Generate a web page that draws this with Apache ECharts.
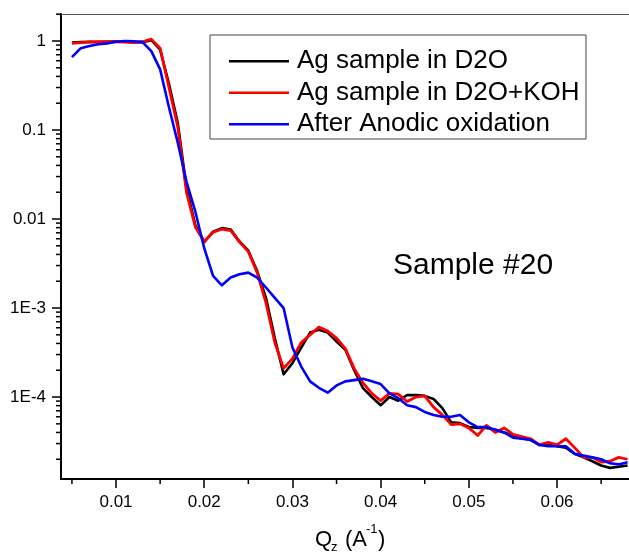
<!DOCTYPE html>
<html>
<head>
<meta charset="utf-8">
<script src="https://cdn.jsdelivr.net/npm/echarts@6/dist/echarts.min.js"></script>
<style>
html,body{margin:0;padding:0;background:#fff;}
#chart{width:629px;height:552px;}
</style>
</head>
<body>
<div id="chart"></div>
<script>
const qValues = [0.005,0.006,0.007,0.008,0.009,0.010,0.011,0.012,0.013,0.014,
  0.015,0.016,0.017,0.018,0.019,0.020,0.021,0.022,0.023,0.024,
  0.025,0.026,0.027,0.028,0.029,0.030,0.031,0.032,0.033,0.034,
  0.035,0.036,0.037,0.038,0.039,0.040,0.041,0.042,0.043,0.044,
  0.045,0.046,0.047,0.048,0.049,0.050,0.051,0.052,0.053,0.054,
  0.055,0.056,0.057,0.058,0.059,0.060,0.061,0.062,0.063,0.064,
  0.065,0.066,0.067,0.068];

const agD2O = [0.96,0.97,0.98,0.97,0.98,0.99,0.98,0.97,0.97,1.02,
  0.80,0.33,0.12,0.022,0.0085,0.0055,0.0072,0.0079,0.0076,0.0056,
  0.0044,0.0026,0.0013,4.6e-4,1.8e-4,2.4e-4,3.6e-4,5.3e-4,5.7e-4,5.3e-4,
  4.2e-4,3.4e-4,2.0e-4,1.26e-4,1.0e-4,8.1e-5,1.0e-4,9.1e-5,1.05e-4,1.05e-4,
  1.03e-4,9.5e-5,7.5e-5,5.2e-5,5.1e-5,4.6e-5,4.5e-5,4.5e-5,4.3e-5,4.0e-5,
  3.7e-5,3.5e-5,3.3e-5,2.9e-5,3.0e-5,2.8e-5,2.7e-5,2.3e-5,2.1e-5,1.9e-5,
  1.7e-5,1.6e-5,1.65e-5,1.7e-5];

const agD2OKOH = [0.94,0.96,0.97,0.98,0.98,0.98,0.97,0.96,0.98,1.05,
  0.83,0.30,0.108,0.0196,0.0081,0.0056,0.0071,0.0077,0.0074,0.0055,
  0.0043,0.0025,0.00114,4.1e-4,2.1e-4,2.7e-4,4.1e-4,5.0e-4,6.1e-4,5.5e-4,
  4.6e-4,3.5e-4,2.1e-4,1.44e-4,1.1e-4,9.1e-5,1.1e-4,1.08e-4,8.9e-5,1.0e-4,
  1.03e-4,7.7e-5,6.3e-5,4.9e-5,5.0e-5,4.5e-5,3.7e-5,4.8e-5,4.0e-5,4.5e-5,
  3.8e-5,3.6e-5,3.4e-5,2.9e-5,3.1e-5,2.9e-5,3.4e-5,2.7e-5,2.1e-5,2.1e-5,
  1.86e-5,1.9e-5,2.1e-5,2.0e-5];

const anodic = [0.66,0.83,0.88,0.92,0.94,0.98,1.0,0.99,0.97,0.77,
  0.48,0.18,0.072,0.026,0.012,0.0047,0.0023,0.0018,0.0022,0.0024,
  0.0025,0.0022,0.0017,0.0013,0.0010,3.6e-4,2.2e-4,1.5e-4,1.27e-4,1.12e-4,
  1.35e-4,1.5e-4,1.55e-4,1.6e-4,1.5e-4,1.4e-4,1.1e-4,9.7e-5,8.1e-5,7.7e-5,
  6.8e-5,6.3e-5,6.0e-5,6.0e-5,6.3e-5,5.2e-5,4.6e-5,4.6e-5,4.3e-5,4.0e-5,
  3.5e-5,3.4e-5,3.3e-5,2.9e-5,2.8e-5,2.8e-5,2.8e-5,2.3e-5,2.2e-5,2.1e-5,
  2.0e-5,1.8e-5,1.75e-5,1.85e-5];

const seriesNames = ['Ag sample in D2O', 'Ag sample in D2O+KOH', 'After Anodic oxidation'];
const seriesColors = ['#000000', '#ff0000', '#0000ff'];
const xMinorTicks = [0.005,0.015,0.025,0.035,0.045,0.055,0.065];
const yMinorTicks = [2e-5,3e-5,4e-5,5e-5,6e-5,7e-5,8e-5,9e-5,
  2e-4,3e-4,4e-4,5e-4,6e-4,7e-4,8e-4,9e-4,
  2e-3,3e-3,4e-3,5e-3,6e-3,7e-3,8e-3,9e-3,
  2e-2,3e-2,4e-2,5e-2,6e-2,7e-2,8e-2,9e-2,
  0.2,0.3,0.4,0.5,0.6,0.7,0.8,0.9,2];

const X_MIN = 0.00376, X_MAX = 0.06816;
const Y_MIN = 1.2e-5, Y_MAX = 2.01;
const FONT = '"Liberation Sans", Arial, sans-serif';

const chart = echarts.init(document.getElementById('chart'), null, {renderer: 'canvas'});

function yLabel(v) {
  const n = Number(v.toPrecision(6));
  if (n >= 0.01) return String(n);
  return '1E' + Math.round(Math.log10(n));
}

const tickData = [];
xMinorTicks.forEach(x => tickData.push([x, Y_MIN, 0]));
yMinorTicks.forEach(y => { if (y <= Y_MAX) tickData.push([X_MIN, y, 1]); });

const lineSeries = [agD2O, agD2OKOH, anodic].map((arr, k) => ({
  name: seriesNames[k],
  type: 'line',
  data: qValues.map((q, i) => [q, arr[i]]),
  showSymbol: false,
  symbol: 'none',
  smooth: false,
  lineStyle: {color: seriesColors[k], width: k === 1 ? 2.8 : 2.6, join: 'round'},
  itemStyle: {color: seriesColors[k]},
  z: 2 + k,
  animation: false
}));

const option = {
  animation: false,
  backgroundColor: '#ffffff',
  grid: {left: 61, top: 14, right: 0, bottom: 73, containLabel: false},
  xAxis: [{
    type: 'value', min: X_MIN, max: X_MAX,
    splitLine: {show: false},
    axisLine: {lineStyle: {color: '#000', width: 2}},
    axisTick: {length: 9, lineStyle: {color: '#000', width: 1.5}},
    axisLabel: {color: '#000', fontSize: 17, fontFamily: FONT, margin: 15,
      showMinLabel: false, showMaxLabel: false,
      formatter: v => String(Number(v.toPrecision(6)))}
  }, {
    type: 'value', position: 'top', min: X_MIN, max: X_MAX,
    splitLine: {show: false},
    axisLine: {lineStyle: {color: '#555', width: 1}},
    axisTick: {show: false}, axisLabel: {show: false}
  }],
  yAxis: {
    type: 'log', logBase: 10, min: Y_MIN, max: Y_MAX,
    splitLine: {show: false},
    axisLine: {lineStyle: {color: '#000', width: 2}},
    axisTick: {length: 9, lineStyle: {color: '#000', width: 1.5}},
    axisLabel: {color: '#000', fontSize: 17, fontFamily: FONT, margin: 15,
      showMinLabel: false, showMaxLabel: false, formatter: yLabel}
  },
  legend: {
    orient: 'vertical', left: 229, top: 45.5, padding: 0, itemGap: 0,
    itemWidth: 60, itemHeight: 2.5, icon: 'rect',
    data: seriesNames,
    textStyle: {color: '#000', fontSize: 26, fontFamily: FONT, lineHeight: 31.5, padding: [0, 0, 0, 3]},
    selectedMode: false
  },
  graphic: [
    {type: 'rect', shape: {x: 210, y: 35, width: 376, height: 104},
      style: {fill: 'none', stroke: '#444', lineWidth: 1}, z: 1},
    {type: 'text', x: 393, y: 266, style: {text: 'Sample #20', font: '30px ' + FONT, fill: '#000', verticalAlign: 'middle'}},
    {type: 'text', x: 315, y: 540, style: {text: 'Q', font: '22px ' + FONT, fill: '#000', verticalAlign: 'middle'}},
    {type: 'text', x: 331, y: 547, style: {text: 'z', font: '13px ' + FONT, fill: '#000', verticalAlign: 'middle'}},
    {type: 'text', x: 345, y: 540, style: {text: '(A', font: '22px ' + FONT, fill: '#000', verticalAlign: 'middle'}},
    {type: 'text', x: 366, y: 529, style: {text: '-1', font: '13px ' + FONT, fill: '#000', verticalAlign: 'middle'}},
    {type: 'text', x: 378, y: 540, style: {text: ')', font: '22px ' + FONT, fill: '#000', verticalAlign: 'middle'}}
  ],
  series: lineSeries.concat([{
    type: 'custom',
    silent: true,
    clip: false,
    data: tickData,
    z: 10,
    renderItem: function (params, api) {
      const p = api.coord([api.value(0), api.value(1)]);
      const kind = api.value(2);
      const shape = kind === 0
        ? {x1: p[0], y1: p[1], x2: p[0], y2: p[1] + 5}
        : {x1: p[0] - 5, y1: p[1], x2: p[0], y2: p[1]};
      return {type: 'line', shape: shape, style: {stroke: '#000', lineWidth: 1.5}};
    }
  }])
};
chart.setOption(option);
</script>
</body>
</html>
